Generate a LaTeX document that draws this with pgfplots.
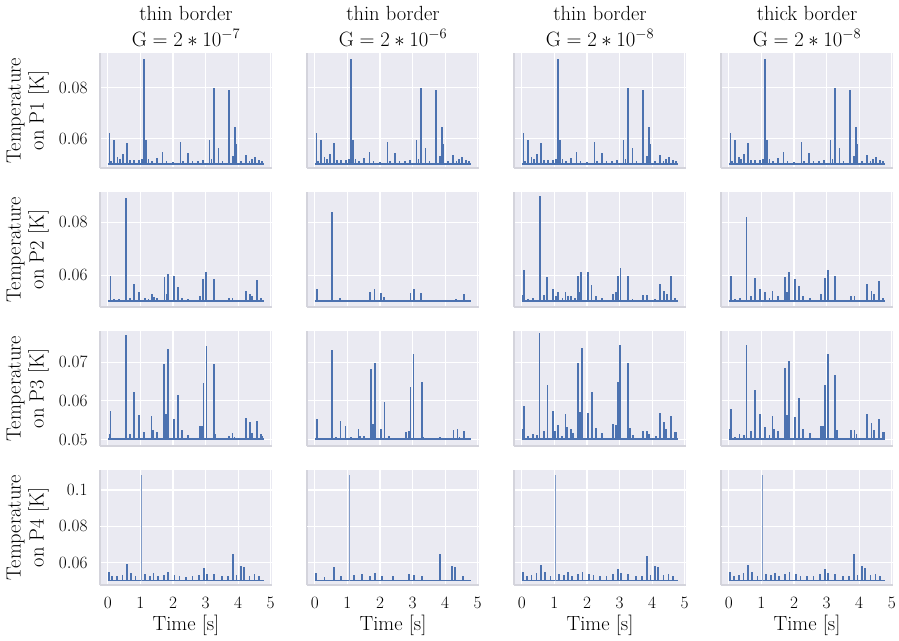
\documentclass[border=0pt]{standalone}
\usepackage{pgfplots}
\pgfplotsset{compat=1.18}
\usepgfplotslibrary{groupplots}
\usepackage{pgfplotstable}
\definecolor{sb}{HTML}{4C72B0}
\definecolor{sbbg}{HTML}{EAEAF2}
\definecolor{spine}{HTML}{D4D4DC}

% ---------- row 1 (P1) ----------
\pgfplotstableread{
t v
0.05 0.0624
0.10 0.0515
0.20 0.0596
0.30 0.0530
0.38 0.0520
0.46 0.0540
0.59 0.0583
0.69 0.0517
0.80 0.0518
0.95 0.0516
1.04 0.0520
1.12 0.0913
1.18 0.0594
1.25 0.0520
1.35 0.0515
1.50 0.0524
1.68 0.0547
1.80 0.0512
2.00 0.0510
2.23 0.0586
2.30 0.0515
2.46 0.0543
2.60 0.0512
2.78 0.0514
2.92 0.0518
3.12 0.0597
3.18 0.0520
3.26 0.0800
3.40 0.0565
3.52 0.0515
3.73 0.0791
3.85 0.0534
3.91 0.0646
3.95 0.0580
4.10 0.0512
4.24 0.0537
4.35 0.0515
4.42 0.0520
4.52 0.0528
4.64 0.0516
4.74 0.0514
}\rowA

% ---------- row 2 (P2) ----------
\pgfplotstableread{
t v
0.08 0.0598
0.20 0.0510
0.35 0.0510
0.56 0.0891
0.69 0.0513
0.80 0.0565
0.96 0.0534
1.14 0.0515
1.25 0.0510
1.35 0.0530
1.42 0.0518
1.50 0.0515
1.74 0.0591
1.80 0.0530
1.84 0.0604
2.04 0.0598
2.15 0.0555
2.28 0.0515
2.47 0.0510
2.82 0.0520
2.92 0.0585
3.02 0.0611
3.26 0.0585
3.73 0.0512
3.83 0.0514
4.24 0.0540
4.36 0.0528
4.42 0.0520
4.58 0.0581
4.69 0.0512
}\rowBa
\pgfplotstableread{
t v
0.07 0.0546
0.53 0.0841
0.77 0.0512
1.70 0.0537
1.83 0.0546
2.02 0.0531
2.12 0.0516
2.94 0.0532
3.04 0.0546
3.27 0.0531
4.34 0.0510
4.59 0.0530
}\rowBb
\pgfplotstableread{
t v
0.02 0.0525
0.07 0.0619
0.20 0.0510
0.35 0.0512
0.55 0.0898
0.69 0.0525
0.78 0.0591
0.95 0.0548
1.05 0.0520
1.12 0.0535
1.25 0.0512
1.34 0.0537
1.42 0.0520
1.52 0.0522
1.62 0.0515
1.73 0.0598
1.79 0.0535
1.82 0.0613
2.03 0.0610
2.14 0.0563
2.27 0.0522
2.46 0.0512
2.80 0.0530
2.88 0.0537
2.95 0.0598
3.03 0.0625
3.26 0.0595
3.40 0.0510
3.73 0.0523
3.85 0.0523
4.10 0.0510
4.24 0.0565
4.37 0.0540
4.45 0.0528
4.59 0.0596
4.70 0.0514
}\rowBc
\pgfplotstableread{
t v
0.06 0.0598
0.20 0.0510
0.35 0.0512
0.54 0.0819
0.67 0.0522
0.80 0.0588
0.95 0.0546
1.12 0.0534
1.25 0.0512
1.34 0.0540
1.51 0.0522
1.73 0.0591
1.79 0.0535
1.84 0.0613
2.04 0.0585
2.15 0.0560
2.28 0.0520
2.48 0.0512
2.82 0.0528
2.94 0.0588
3.04 0.0621
3.27 0.0598
3.75 0.0522
3.86 0.0522
4.25 0.0565
4.38 0.0540
4.45 0.0528
4.60 0.0579
4.73 0.0514
}\rowBd

% ---------- row 3 (P3) ----------
\pgfplotstableread{
t v
0.06 0.0515
0.08 0.0575
0.22 0.0504
0.35 0.0505
0.46 0.0505
0.56 0.0769
0.69 0.0516
0.80 0.0624
0.96 0.0565
1.12 0.0519
1.34 0.0560
1.38 0.0525
1.50 0.0519
1.73 0.0696
1.79 0.0566
1.84 0.0733
2.04 0.0553
2.15 0.0616
2.28 0.0525
2.47 0.0512
2.82 0.0536
2.89 0.0535
2.94 0.0646
3.03 0.0741
3.26 0.0694
3.30 0.0515
3.73 0.0510
3.83 0.0517
3.89 0.0508
4.24 0.0555
4.36 0.0545
4.42 0.0517
4.57 0.0549
4.69 0.0515
4.73 0.0510
}\rowCa
\pgfplotstableread{
t v
0.07 0.0553
0.53 0.0730
0.66 0.0508
0.79 0.0549
0.94 0.0536
1.12 0.0508
1.34 0.0528
1.38 0.0510
1.50 0.0510
1.72 0.0683
1.78 0.0540
1.84 0.0698
2.03 0.0528
2.14 0.0597
2.28 0.0510
2.47 0.0505
2.81 0.0521
2.90 0.0523
2.94 0.0637
3.03 0.0720
3.28 0.0650
3.32 0.0508
3.85 0.0508
4.26 0.0526
4.38 0.0528
4.44 0.0508
4.59 0.0523
4.71 0.0505
}\rowCb
\pgfplotstableread{
t v
0.02 0.0528
0.06 0.0588
0.20 0.0510
0.34 0.0515
0.46 0.0512
0.54 0.0775
0.68 0.0523
0.79 0.0640
0.95 0.0575
1.02 0.0523
1.12 0.0538
1.24 0.0510
1.34 0.0566
1.38 0.0532
1.51 0.0528
1.58 0.0518
1.73 0.0698
1.79 0.0572
1.84 0.0737
2.03 0.0568
2.15 0.0622
2.27 0.0530
2.46 0.0518
2.80 0.0540
2.88 0.0538
2.94 0.0650
3.02 0.0745
3.27 0.0698
3.31 0.0530
3.41 0.0512
3.72 0.0523
3.85 0.0523
3.91 0.0514
4.12 0.0510
4.24 0.0568
4.36 0.0547
4.42 0.0528
4.59 0.0562
4.70 0.0520
4.75 0.0520
}\rowCc
\pgfplotstableread{
t v
0.03 0.0528
0.06 0.0578
0.20 0.0508
0.33 0.0515
0.46 0.0512
0.54 0.0745
0.67 0.0523
0.80 0.0627
0.95 0.0566
1.12 0.0534
1.25 0.0512
1.34 0.0560
1.38 0.0528
1.51 0.0523
1.73 0.0684
1.79 0.0564
1.84 0.0704
2.04 0.0558
2.15 0.0608
2.28 0.0528
2.48 0.0518
2.82 0.0536
2.89 0.0535
2.94 0.0641
3.04 0.0722
3.27 0.0667
3.31 0.0525
3.75 0.0525
3.86 0.0525
3.92 0.0515
4.25 0.0566
4.38 0.0543
4.45 0.0525
4.60 0.0553
4.72 0.0520
4.77 0.0520
}\rowCd

% ---------- row 4 (P4) ----------
\pgfplotstableread{
t v
0.03 0.0548
0.12 0.0530
0.28 0.0525
0.45 0.0535
0.60 0.0592
0.70 0.0545
0.85 0.0528
1.15 0.0538
1.30 0.0530
1.40 0.0545
1.55 0.0525
1.72 0.0535
1.85 0.0548
2.05 0.0535
2.20 0.0528
2.40 0.0522
2.60 0.0525
2.80 0.0535
2.95 0.0572
3.05 0.0540
3.25 0.0538
3.50 0.0528
3.70 0.0525
3.85 0.0650
3.95 0.0532
4.08 0.0585
4.18 0.0578
4.35 0.0530
4.50 0.0538
4.65 0.0528
}\rowDa
\pgfplotstableread{
t v
0.03 0.0545
0.30 0.0520
0.58 0.0575
0.80 0.0530
1.20 0.0535
1.45 0.0540
1.70 0.0530
1.85 0.0545
2.05 0.0530
2.40 0.0525
2.90 0.0540
3.05 0.0535
3.30 0.0530
3.85 0.0650
4.20 0.0580
4.30 0.0575
4.55 0.0530
}\rowDb
\pgfplotstableread{
t v
0.03 0.0550
0.15 0.0528
0.30 0.0535
0.45 0.0545
0.60 0.0590
0.72 0.0550
0.88 0.0530
1.15 0.0540
1.30 0.0535
1.42 0.0548
1.55 0.0530
1.72 0.0540
1.86 0.0550
2.05 0.0540
2.20 0.0532
2.40 0.0528
2.60 0.0530
2.80 0.0540
2.95 0.0568
3.05 0.0545
3.25 0.0540
3.50 0.0530
3.70 0.0530
3.85 0.0640
3.95 0.0535
4.08 0.0582
4.18 0.0575
4.35 0.0535
4.50 0.0540
4.65 0.0530
}\rowDc
\pgfplotstableread{
t v
0.03 0.0548
0.15 0.0528
0.30 0.0532
0.45 0.0542
0.60 0.0588
0.72 0.0548
0.88 0.0528
1.15 0.0538
1.30 0.0532
1.42 0.0546
1.55 0.0528
1.72 0.0538
1.86 0.0548
2.05 0.0538
2.20 0.0530
2.40 0.0526
2.60 0.0528
2.80 0.0538
2.95 0.0566
3.05 0.0542
3.25 0.0538
3.50 0.0528
3.70 0.0528
3.85 0.0648
3.95 0.0533
4.08 0.0580
4.18 0.0574
4.35 0.0533
4.50 0.0538
4.65 0.0528
}\rowDd

\newcommand{\spikes}[1]{%
  \addplot[sb, line width=1.6pt, mark=none] coordinates {(0,0.0502) (4.8,0.0502)};
  \addplot[sb, line width=1.6pt, mark=none,
    error bars/y dir=plus, error bars/y explicit, error bars/error mark=none,
    error bars/error bar style={sb, line width=1.8pt, solid}]
    table[x=t, y expr=0.0502, y error expr=\thisrow{v}-0.0502] {#1};
}

\begin{document}
\begin{tikzpicture}
\begin{groupplot}[
  group style={group size=4 by 4, horizontal sep=35pt, vertical sep=24pt,
    xticklabels at=edge bottom, yticklabels at=edge left},
  scale only axis, width=172pt, height=115pt,
  xmin=-0.24, xmax=5.04, xtick={0,1,2,3,4,5},
  axis background/.style={fill=sbbg},
  grid=major, major grid style={white, line width=1.1pt},
  axis x line*=bottom, axis y line*=left,
  axis line style={spine, line width=1.2pt},
  major tick length=0pt,
  ticklabel shift=9pt,
  scaled y ticks=false,
  yticklabel style={/pgf/number format/fixed, /pgf/number format/precision=2},
  tick label style={font=\fontsize{17.5}{17.5}\selectfont},
  label style={font=\fontsize{20.5}{23}\selectfont},
  every axis y label/.style={at={(axis description cs:-0.42,0.5)}, rotate=90, anchor=center, align=center, font=\fontsize{20.5}{23}\selectfont},
  title style={font=\fontsize{20.5}{26}\selectfont, align=center, yshift=-3pt},
  clip=true,
]
% row 1
\nextgroupplot[ymin=0.0486, ymax=0.0935, ytick={0.06,0.08},
  title={thin border\\$\mathrm{G} = 2*10^{-7}$},
  ylabel={Temperature\\on P1 [K]}]
\spikes{\rowA}
\nextgroupplot[ymin=0.0486, ymax=0.0935, ytick={0.06,0.08},
  title={thin border\\$\mathrm{G} = 2*10^{-6}$}]
\spikes{\rowA}
\nextgroupplot[ymin=0.0486, ymax=0.0935, ytick={0.06,0.08},
  title={thin border\\$\mathrm{G} = 2*10^{-8}$}]
\spikes{\rowA}
\nextgroupplot[ymin=0.0486, ymax=0.0935, ytick={0.06,0.08},
  title={thick border\\$\mathrm{G} = 2*10^{-8}$}]
\spikes{\rowA}
% row 2
\nextgroupplot[ymin=0.0479, ymax=0.0915, ytick={0.06,0.08},
  ylabel={Temperature\\on P2 [K]}]
\spikes{\rowBa}
\nextgroupplot[ymin=0.0479, ymax=0.0915, ytick={0.06,0.08}]
\spikes{\rowBb}
\nextgroupplot[ymin=0.0479, ymax=0.0915, ytick={0.06,0.08}]
\spikes{\rowBc}
\nextgroupplot[ymin=0.0479, ymax=0.0915, ytick={0.06,0.08}]
\spikes{\rowBd}
% row 3
\nextgroupplot[ymin=0.0484, ymax=0.0780, ytick={0.05,0.06,0.07},
  ylabel={Temperature\\on P3 [K]}]
\spikes{\rowCa}
\nextgroupplot[ymin=0.0484, ymax=0.0780, ytick={0.05,0.06,0.07}]
\spikes{\rowCb}
\nextgroupplot[ymin=0.0484, ymax=0.0780, ytick={0.05,0.06,0.07}]
\spikes{\rowCc}
\nextgroupplot[ymin=0.0484, ymax=0.0780, ytick={0.05,0.06,0.07}]
\spikes{\rowCd}
% row 4
\nextgroupplot[ymin=0.0478, ymax=0.1110, ytick={0.06,0.1}, extra y ticks={0.08},
  ylabel={Temperature\\on P4 [K]}, xlabel={Time [s]}]
\spikes{\rowDa}
\addplot[sb!70, line width=0.6pt] coordinates {(1.04,0.0502) (1.04,0.1080)};
\nextgroupplot[ymin=0.0478, ymax=0.1110, ytick={0.06,0.1}, extra y ticks={0.08}, extra y tick labels={}, xlabel={Time [s]}]
\spikes{\rowDb}
\addplot[sb!70, line width=0.6pt] coordinates {(1.06,0.0502) (1.06,0.1080)};
\nextgroupplot[ymin=0.0478, ymax=0.1110, ytick={0.06,0.1}, extra y ticks={0.08}, extra y tick labels={}, xlabel={Time [s]}]
\spikes{\rowDc}
\addplot[sb!70, line width=0.6pt] coordinates {(1.04,0.0502) (1.04,0.1080)};
\nextgroupplot[ymin=0.0478, ymax=0.1110, ytick={0.06,0.1}, extra y ticks={0.08}, extra y tick labels={}, xlabel={Time [s]}]
\spikes{\rowDd}
\addplot[sb!70, line width=0.6pt] coordinates {(1.04,0.0502) (1.04,0.1080)};
\end{groupplot}
\pgfresetboundingbox
\path (group c1r1.north west) ++(-100pt,53pt) rectangle ++(899pt,-640pt);
\end{tikzpicture}
\end{document}
